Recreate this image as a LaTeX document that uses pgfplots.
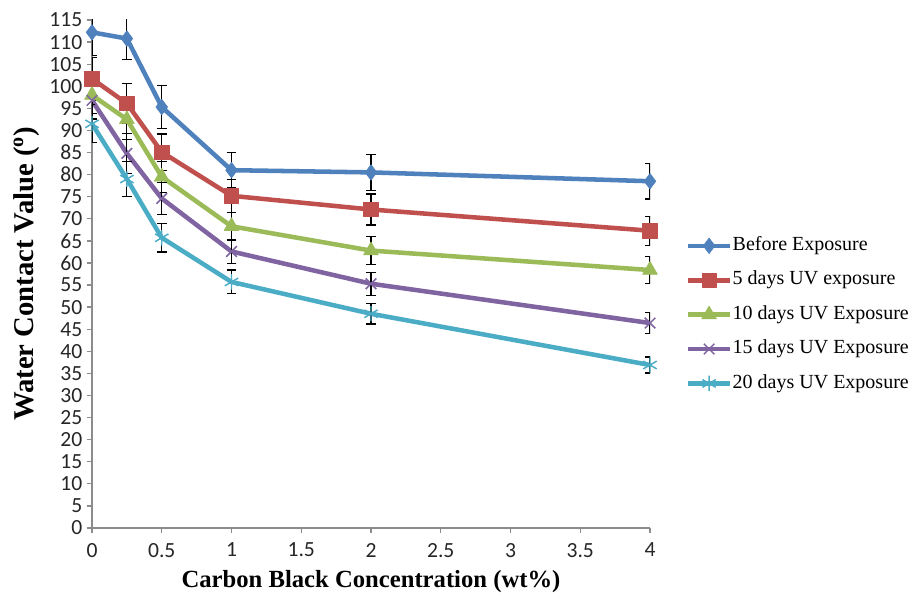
\documentclass[border=0pt]{standalone}
\usepackage{pgfplots}
\pgfplotsset{compat=1.18}
\usepackage{fontspec}
\setmainfont{Liberation Serif}
\newfontfamily\tickfont{Carlito}

\definecolor{cBlue}{HTML}{4F81BD}
\definecolor{cRed}{HTML}{C0504D}
\definecolor{cGreen}{HTML}{9BBB59}
\definecolor{cPurple}{HTML}{8064A2}
\definecolor{cCyan}{HTML}{4BACC6}
\definecolor{axgray}{HTML}{8C8C8C}

% contact angle (deg) vs carbon black loading, with standard deviation
\pgfplotsset{
  wca/.style={line width=3.4pt, line join=round,
    error bars/y dir=both, error bars/y explicit,
    error bars/error bar style={black, line width=0.9pt},
    error bars/error mark options={black, line width=0.9pt, mark size=3.6pt, rotate=90}},
}

\begin{document}
\begin{tikzpicture}
\useasboundingbox (-69pt,-51.75pt) rectangle (614.25pt,396pt);
\begin{axis}[
  at={(0,0)}, anchor=origin,
  width=418.5pt, height=381pt, scale only axis,
  xmin=0, xmax=4, ymin=0, ymax=115,
  xtick={0,0.5,1,1.5,2,2.5,3,3.5,4},
  ytick={0,5,...,115},
  axis lines*=left,
  axis line style={axgray, line width=1pt},
  tick style={axgray, line width=1pt},
  tick align=outside,
  major tick length=3.75pt,
  /pgf/number format/assume math mode=true,
  ticklabel style={font=\tickfont\fontsize{16.2}{18}\selectfont, text=black!85},
  xticklabel style={yshift=-4pt},
  xlabel={Carbon Black Concentration (wt\%)},
  ylabel={Water Contact Value (\textsuperscript{o})},
  xlabel style={font=\bfseries\fontsize{18.5}{22}\selectfont,
    at={(axis description cs:0.5,-0.118)}, anchor=base},
  ylabel style={font=\bfseries\fontsize{21.5}{25}\selectfont,
    at={(axis description cs:-0.118,0.5)}, anchor=center},
  legend style={at={(1.056,0.42)}, anchor=west, draw=none, fill=none,
    font=\fontsize{15}{18}\selectfont, row sep=11.8pt,
    nodes={inner sep=0pt, text height=10.5pt, text depth=3.5pt}},
  legend cell align=left,
  legend image code/.code={%
    \draw[mark repeat=2, mark phase=2, line width=3.4pt]
      plot coordinates {(0pt,0pt) (16pt,0pt) (32pt,0pt)};},
  /tikz/every even column/.append style={column sep=0.5pt},
  clip=true,
]
\addplot+[cBlue, wca, mark=diamond*, mark size=5.8pt,
  mark options={fill=cBlue, draw=cBlue, line width=0.5pt}]
  table[y error=e] {
  x    y     e
  0    112.2 5.3
  0.25 110.8 4.7
  0.5  95.3  4.8
  1    81.0  4.0
  2    80.5  4.1
  4    78.5  4.0
};
\addlegendentry{Before Exposure}
\addplot+[cRed, wca, mark=square*, mark size=5.4pt,
  mark options={fill=cRed, draw=cRed, line width=0.5pt}]
  table[y error=e] {
  x    y     e
  0    101.7 4.8
  0.25 96.1  4.6
  0.5  85.1  4.1
  1    75.2  3.7
  2    72.1  3.5
  4    67.3  3.3
};
\addlegendentry{5 days UV exposure}
\addplot+[cGreen, wca, mark=triangle*, mark size=6.4pt,
  mark options={fill=cGreen, draw=cGreen, line width=0.5pt}]
  table[y error=e] {
  x    y     e
  0    98.0  4.2
  0.25 92.5  4.5
  0.5  79.5  3.5
  1    68.3  3.2
  2    62.8  3.2
  4    58.4  3.0
};
\addlegendentry{10 days UV Exposure}
\addplot+[cPurple, wca, mark=x, mark size=5.6pt,
  mark options={draw=cPurple, line width=1.1pt}]
  table[y error=e] {
  x    y     e
  0    96.8  4.2
  0.25 84.8  4.5
  0.5  74.6  3.7
  1    62.6  2.7
  2    55.3  2.6
  4    46.4  2.3
};
\addlegendentry{15 days UV Exposure}
\addplot+[cCyan, wca, mark=asterisk, mark size=5.8pt,
  mark options={draw=cCyan, line width=1.1pt}]
  table[y error=e] {
  x    y     e
  0    91.5  4.3
  0.25 79.0  4.0
  0.5  65.7  3.2
  1    55.7  2.7
  2    48.5  2.3
  4    36.9  1.8
};
\addlegendentry{20 days UV Exposure}
\end{axis}
\end{tikzpicture}
\end{document}
